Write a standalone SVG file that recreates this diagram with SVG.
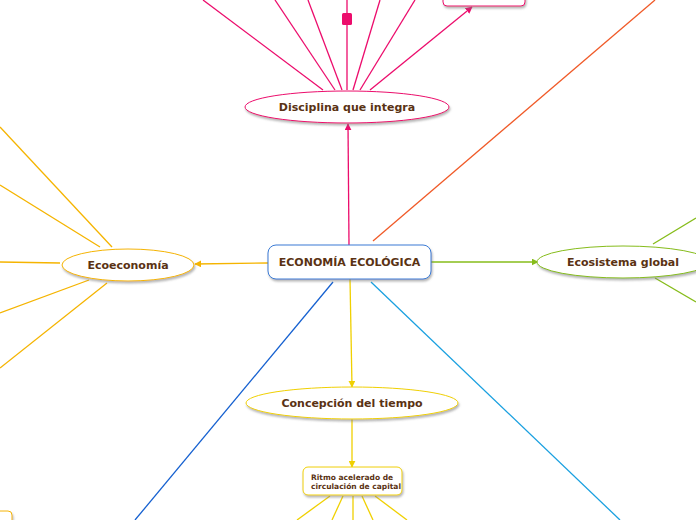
<svg xmlns="http://www.w3.org/2000/svg" width="696" height="520" viewBox="0 0 696 520">
<defs>
<style>
.t{font-family:"DejaVu Sans",Verdana,sans-serif;font-weight:bold;fill:#5a3213;text-anchor:middle}
.n{fill:#fff;stroke-width:1;filter:url(#sh)}
.c{fill:none;stroke-width:1.3}
</style>
<filter id="sh" x="-10%" y="-30%" width="120%" height="170%">
<feDropShadow dx="1" dy="2" stdDeviation="0.8" flood-color="#777" flood-opacity="0.55"/>
</filter>
<marker id="aP" viewBox="0 0 10 10" refX="9" refY="5" markerWidth="7" markerHeight="7" orient="auto" markerUnits="userSpaceOnUse"><path d="M0,0L10,5L0,10z" fill="#ec0c6c"/></marker>
<marker id="aO" viewBox="0 0 10 10" refX="9" refY="5" markerWidth="7" markerHeight="7" orient="auto" markerUnits="userSpaceOnUse"><path d="M0,0L10,5L0,10z" fill="#f5b400"/></marker>
<marker id="aG" viewBox="0 0 10 10" refX="9" refY="5" markerWidth="7" markerHeight="7" orient="auto" markerUnits="userSpaceOnUse"><path d="M0,0L10,5L0,10z" fill="#86bc1a"/></marker>
<marker id="aY" viewBox="0 0 10 10" refX="9" refY="5" markerWidth="7" markerHeight="7" orient="auto" markerUnits="userSpaceOnUse"><path d="M0,0L10,5L0,10z" fill="#f0d000"/></marker>
</defs>
<rect width="696" height="520" fill="#fff"/>
<g id="connectors">
<g stroke="#ec0c6c" class="c">
<line x1="349" y1="245" x2="348" y2="124" marker-end="url(#aP)"/>
<line x1="323" y1="90" x2="203" y2="0"/>
<line x1="335" y1="90" x2="275" y2="0"/>
<line x1="342" y1="90" x2="308" y2="0"/>
<line x1="347" y1="90" x2="347" y2="0"/>
<line x1="353" y1="90" x2="380" y2="0"/>
<line x1="360" y1="90" x2="415" y2="0"/>
<line x1="370" y1="90" x2="472" y2="7" marker-end="url(#aP)"/>
</g>
<rect x="342" y="13" width="10" height="12" rx="1.5" fill="#ec0c6c"/>
<line class="c" stroke="#f05a28" x1="373" y1="241" x2="655" y2="0"/>
<g stroke="#f5b400" class="c">
<line x1="268" y1="263" x2="195" y2="264" marker-end="url(#aO)"/>
<line x1="112" y1="247" x2="0" y2="127"/>
<line x1="100" y1="247" x2="0" y2="185"/>
<line x1="60" y1="263" x2="0" y2="262"/>
<line x1="89" y1="280" x2="0" y2="313"/>
<line x1="107" y1="283" x2="0" y2="368"/>
</g>
<g stroke="#86bc1a" class="c">
<line x1="431" y1="262" x2="538" y2="262" marker-end="url(#aG)"/>
<line x1="653" y1="244" x2="696" y2="218"/>
<line x1="655" y1="278" x2="696" y2="302"/>
</g>
<g stroke="#f0d000" class="c">
<line x1="350" y1="279" x2="352" y2="387" marker-end="url(#aY)"/>
<line x1="352" y1="419" x2="352" y2="467" marker-end="url(#aY)"/>
<line x1="330" y1="496" x2="297" y2="520"/>
<line x1="343" y1="496" x2="332" y2="520"/>
<line x1="353" y1="496" x2="353" y2="520"/>
<line x1="362" y1="496" x2="373" y2="520"/>
<line x1="375" y1="496" x2="407" y2="520"/>
</g>
<line class="c" stroke="#1560d0" x1="333" y1="282" x2="135" y2="520"/>
<line class="c" stroke="#1aa0e0" x1="371" y1="282" x2="620" y2="520"/>
</g>
<g id="node-top-box"><rect class="n" x="443" y="-20" width="82" height="26" rx="4" stroke="#ec0c6c"/></g>
<g id="node-bottom-left"><rect class="n" x="-50" y="511" width="62" height="30" rx="4" stroke="#f5b400"/></g>
<g id="node-center">
<rect class="n" x="268" y="245" width="163" height="34" rx="8" stroke="#3a7bd5"/>
<text class="t" x="349.5" y="266" font-size="11">ECONOMÍA ECOLÓGICA</text>
</g>
<g id="node-disciplina">
<ellipse class="n" cx="347" cy="107" rx="102" ry="16" stroke="#ec0c6c"/>
<text class="t" x="347" y="111" font-size="11">Disciplina que integra</text>
</g>
<g id="node-ecoeconomia">
<ellipse class="n" cx="128" cy="265" rx="66" ry="16" stroke="#f5b400"/>
<text class="t" x="128" y="269" font-size="11">Ecoeconomía</text>
</g>
<g id="node-ecosistema">
<ellipse class="n" cx="623" cy="262" rx="86" ry="16" stroke="#86bc1a"/>
<text class="t" x="623" y="266" font-size="11">Ecosistema global</text>
</g>
<g id="node-concepcion">
<ellipse class="n" cx="352" cy="403" rx="106" ry="16" stroke="#f0d000"/>
<text class="t" x="352" y="407" font-size="11">Concepción del tiempo</text>
</g>
<g id="node-ritmo">
<rect class="n" x="303" y="467" width="99" height="28" rx="5" stroke="#f0d000"/>
<text class="t" x="311" y="480" font-size="7.5" style="text-anchor:start">Ritmo acelerado de</text>
<text class="t" x="311" y="489" font-size="7.5" style="text-anchor:start">circulación de capital</text>
</g>
</svg>
